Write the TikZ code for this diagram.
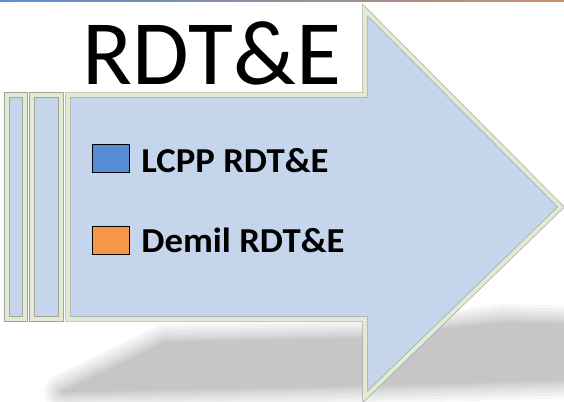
\documentclass[tikz,border=0pt]{standalone}
\usepackage{fontspec}
\setmainfont{Carlito}
\usetikzlibrary{positioning}

\definecolor{arrowblue}{HTML}{C5D6EC}
\definecolor{rimcream}{HTML}{E3EAD3}
\definecolor{rimgray}{HTML}{A3A69C}
\definecolor{lcppblue}{HTML}{558ED5}
\definecolor{demilorange}{HTML}{F79646}
\definecolor{lineblue}{HTML}{5B8FD0}
\definecolor{linebrown}{HTML}{C8906A}

\begin{document}
\begin{tikzpicture}[
    x=1pt, y=-1pt,
    rim/.style={draw=rimgray, double=rimcream, double distance=4pt, line width=0.7pt, fill=arrowblue},
    swatch/.style={rectangle, draw=black, line width=1.3pt, minimum width=37pt, minimum height=28pt, inner sep=0pt},
    legend/.style={font=\fontsize{35}{35}\selectfont\bfseries, inner sep=0pt, xscale=1.05, transform shape},
    blur/.style={fill=black, draw=black, line join=round}
]
    \useasboundingbox (0,0) rectangle (564,401);

    % top rule
    \shade[left color=lineblue, right color=linebrown] (0,0) rectangle (564,2);

    % ground shadow
    \foreach \w in {36,30,24,18,13,8,4,0.1} {
        \begin{scope}[transparency group, opacity=0.03]
            \path[blur, line width=\w pt] (62,392) -- (165,342) -- (365,338) -- (505,322)
                -- (575,324) -- (575,380) -- (365,386) -- cycle;
        \end{scope}
    }

    % strips and arrow
    \path[rim] (7,95) rectangle (25,319);
    \path[rim] (32,95) rectangle (61,319);
    \path[rim] (68,95) -- (365,95) -- (365,10) -- (561,207) -- (365,397)
        -- (365,319) -- (68,319) -- cycle;

    % title
    \node[font=\fontsize{92}{92}\selectfont] (title) at (212,53) {RDT\&E};

    % legend
    \node[swatch, fill=lcppblue] (lcpp) at (111,158.5) {};
    \node[swatch, fill=demilorange, below=53pt of lcpp] (demil) {};
    \node[legend, right=11pt of lcpp, yshift=-2.5pt] (lcpplabel) {LCPP RDT\&E};
    \node[legend, right=11pt of demil] (demillabel) {Demil RDT\&E};
\end{tikzpicture}
\end{document}
